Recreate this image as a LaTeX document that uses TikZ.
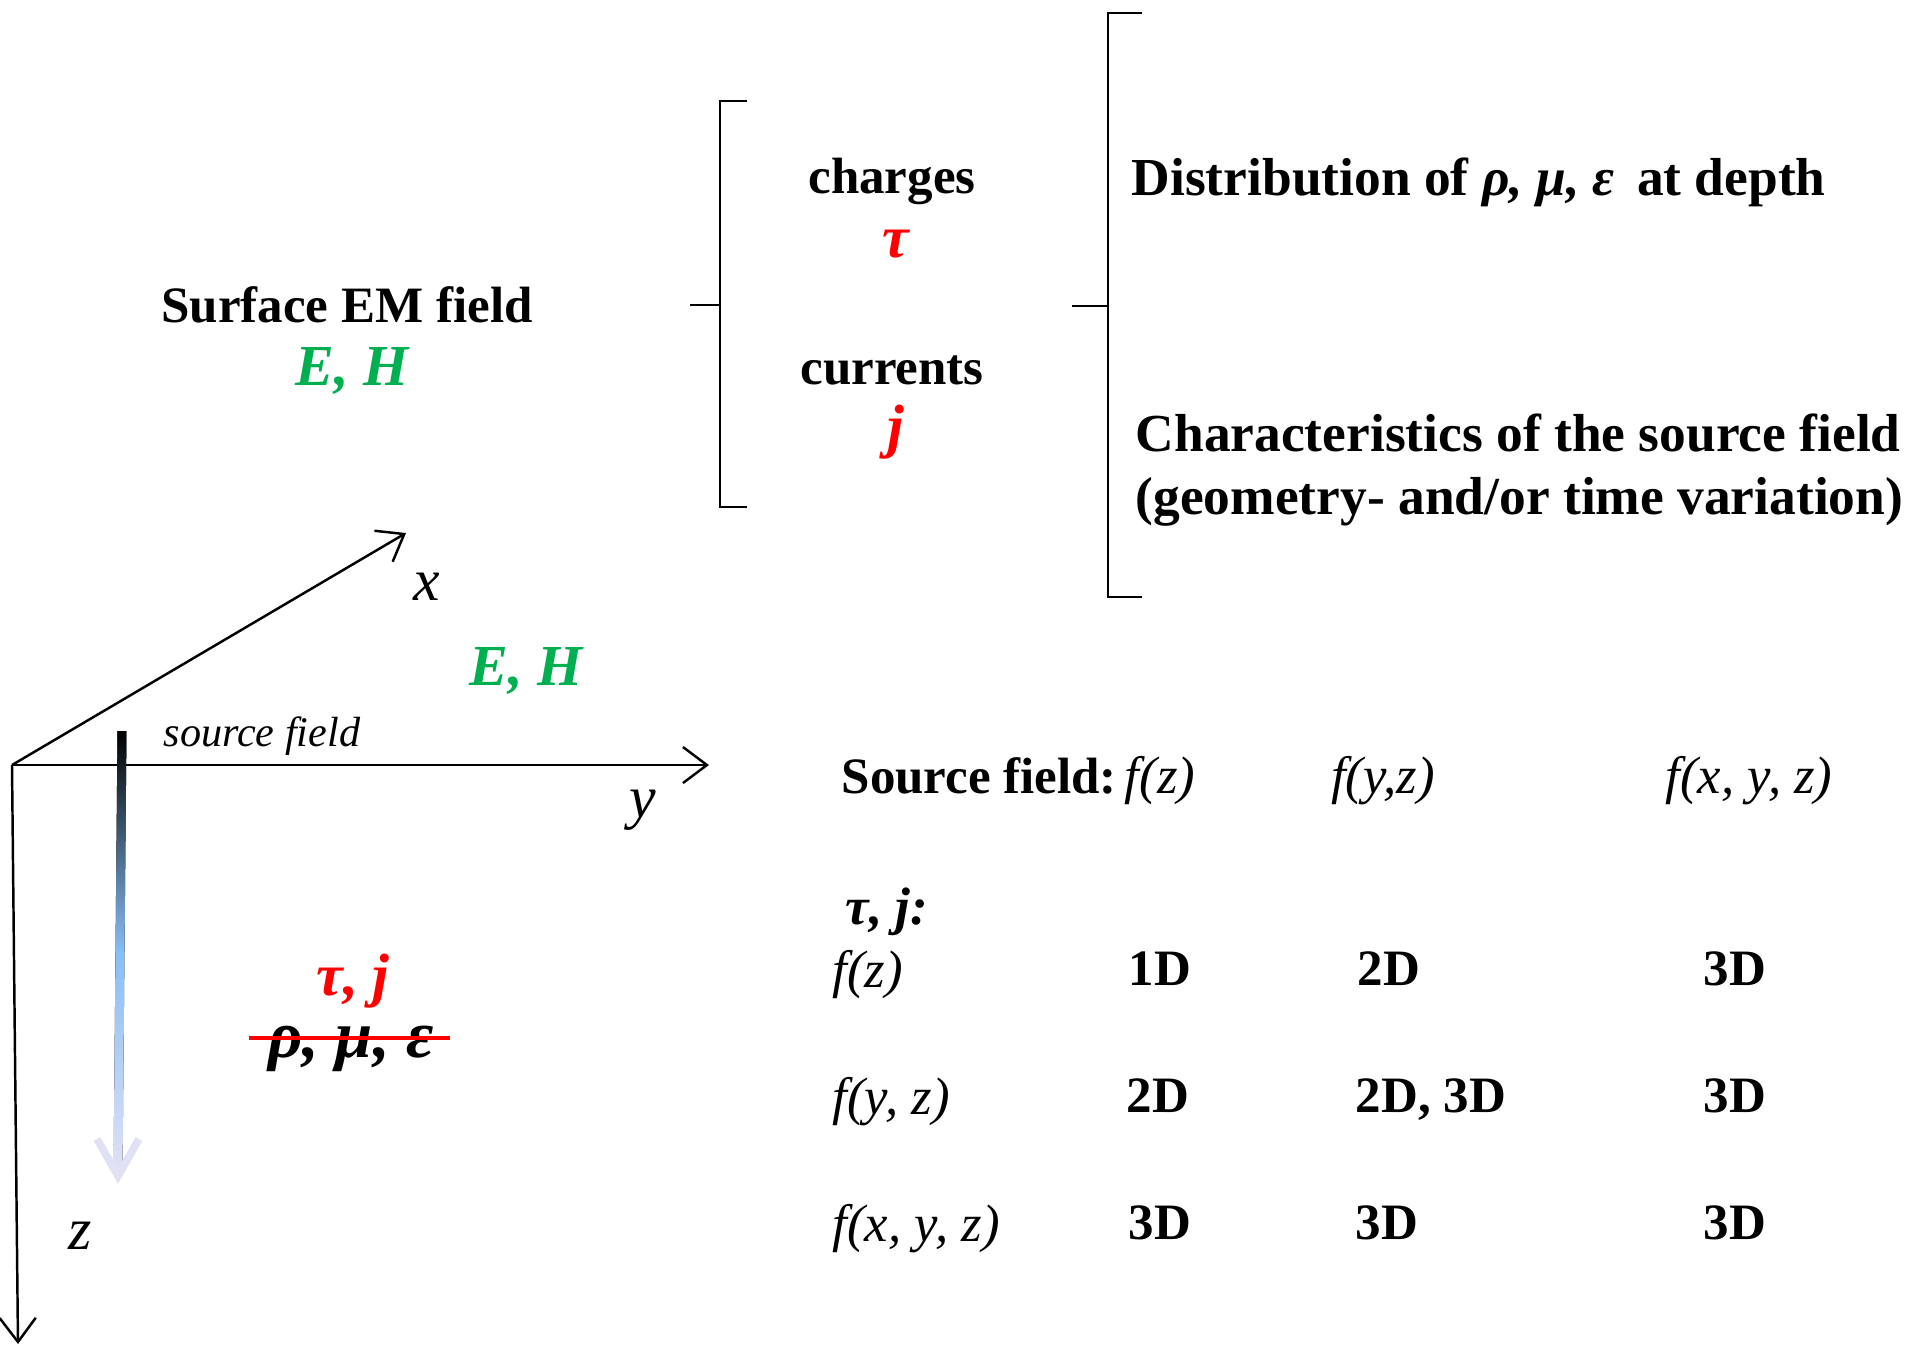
\documentclass[tikz,border=0pt]{standalone}
\usepackage{fontspec}
\setmainfont{Liberation Serif}
\usepackage{xcolor}
\usepackage{tikz}
\usetikzlibrary{arrows.meta}
\definecolor{emgreen}{HTML}{00B050}
\definecolor{srcblue}{HTML}{87BEF5}
\definecolor{srclav}{HTML}{E1E1F5}
\tikzset{
  txt/.style={font=\fontsize{14.5}{17}\selectfont\bfseries, inner sep=0pt},
  rtxt/.style={font=\fontsize{15.2}{18}\selectfont\bfseries, inner sep=0pt},
  ital/.style={font=\fontsize{15}{18}\selectfont\itshape, inner sep=0pt},
  axlab/.style={font=\fontsize{17}{20}\selectfont\itshape, inner sep=0pt},
  fld/.style={font=\fontsize{16.5}{19}\selectfont\bfseries\itshape, text=emgreen, inner sep=0pt},
  srcq/.style={font=\fontsize{17}{20}\selectfont\bfseries\itshape, text=red, inner sep=0pt},
  axis/.style={line width=0.7pt, -{Straight Barb[length=2.4mm, width=3.6mm]}},
  brack/.style={line width=0.8pt},
}

\begin{document}
\begin{tikzpicture}[x=0.01cm, y=-0.01cm]
    \useasboundingbox (0,0) rectangle (1911,1347);
    % top part
    \node[txt, anchor=base] (surf) at (347,322) {Surface EM field};
    \node[fld, anchor=base] (surfEH) at (352,385) {E, H};
    \draw[brack] (747,101) -- (720,101) -- (720,507) -- (747,507);
    \draw[brack] (690,305) -- (720,305);
    \node[txt, anchor=base] (charges) at (892,193) {charges};
    \node[srcq, anchor=base] (tau) at (896,257) {τ};
    \node[txt, anchor=base] (currents) at (892,384) {currents};
    \node[srcq, anchor=base] (jcur) at (896,446) {j};
    \draw[brack] (1142,13) -- (1108,13) -- (1108,597) -- (1142,597);
    \draw[brack] (1072,306) -- (1108,306);
    \node[rtxt, anchor=base west] (distrib) at (1131,195) {Distribution of \textit{ρ, μ, ε}\, at depth};
    \node[rtxt, anchor=base west] (charact) at (1135,451) {Characteristics of the source field};
    \node[rtxt, anchor=base west] (charact2) at (1135,514) {(geometry- and/or time variation)};

    % axes
    \coordinate (O) at (12,765);
    \coordinate (xend) at (406,533);
    \coordinate (yend) at (709,765);
    \coordinate (zend) at (18,1344);
    \draw[axis] (O) -- (xend);
    \draw[axis] (O) -- (yend);
    \draw[axis] (O) -- (zend);
    \node[axlab, anchor=base] (xlab) at (427,600) {x};
    \node[axlab, anchor=base] (ylab) at (643,817) {y};
    \node[axlab, anchor=base] (zlab) at (80,1249) {z};

    % source field arrow
    \fill[top color=black, bottom color=srclav, middle color=srcblue]
      (117.5,731) -- (126.5,731) -- (122.5,1172) -- (113.5,1172) -- cycle;
    \draw[srclav, line width=2.2pt] (97,1139) -- (118,1176) -- (139,1139);
    \node[font=\fontsize{12}{14}\selectfont\itshape, inner sep=0pt, anchor=base] (srclab) at (262,746) {source field};
    \node[fld, anchor=base] (fieldEH) at (526,685) {E, H};
    \node[srcq, anchor=base] (tauj) at (353,995) {τ, j};
    \node[font=\fontsize{19}{22}\selectfont\bfseries\itshape, inner sep=0pt, anchor=base] (rhomu) at (351,1057) {ρ, μ, ε};
    \draw[red, line width=1.4pt] ([xshift=-0.18cm]rhomu.west |- 0,1038) -- ([xshift=0.15cm]rhomu.east |- 0,1038);

    % table
    \node[txt, anchor=base west] (srcfield) at (841,793) {Source field:};
    \node[ital, anchor=base] (fz) at (1160,793) {f(z)};
    \node[ital, anchor=base] (fyz) at (1383,793) {f(y,z)};
    \node[ital, anchor=base] (fxyz) at (1749,793) {f(x, y, z)};
    \node[font=\fontsize{15}{18}\selectfont\bfseries\itshape, inner sep=0pt, anchor=base west] (taujh) at (845,924) {τ, j:};
    \node[ital, anchor=base west] (rfz) at (832,987) {f(z)};
    \node[ital, anchor=base west] (rfyz) at (832,1114) {f(y, z)};
    \node[ital, anchor=base west] (rfxyz) at (832,1241) {f(x, y, z)};
    \node[txt, anchor=base] (c11) at (1160,985) {1D};
    \node[txt, anchor=base] (c12) at (1389,985) {2D};
    \node[txt, anchor=base] (c13) at (1735,985) {3D};
    \node[txt, anchor=base] (c21) at (1158,1112) {2D};
    \node[txt, anchor=base] (c22) at (1431,1112) {2D, 3D};
    \node[txt, anchor=base] (c23) at (1735,1112) {3D};
    \node[txt, anchor=base] (c31) at (1160,1239) {3D};
    \node[txt, anchor=base] (c32) at (1387,1239) {3D};
    \node[txt, anchor=base] (c33) at (1735,1239) {3D};
\end{tikzpicture}
\end{document}
